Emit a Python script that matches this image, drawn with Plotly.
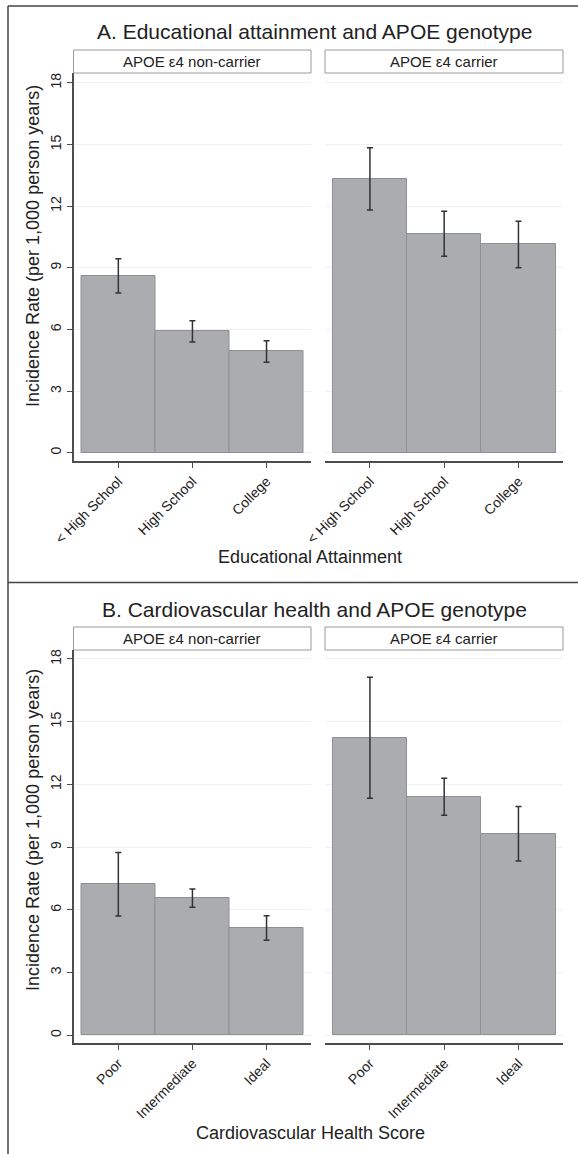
import plotly.graph_objects as go

# ---------------- data ----------------
edu_categories = ["< High School", "High School", "College"]
edu_noncarrier = [8.61, 5.91, 4.93]
edu_noncarrier_hi = [9.44, 6.42, 5.45]
edu_noncarrier_lo = [7.77, 5.39, 4.41]
edu_carrier = [13.32, 10.66, 10.16]
edu_carrier_hi = [14.84, 11.75, 11.27]
edu_carrier_lo = [11.81, 9.56, 9.00]

cvh_categories = ["Poor", "Intermediate", "Ideal"]
cvh_noncarrier = [7.22, 6.57, 5.15]
cvh_noncarrier_hi = [8.74, 7.00, 5.72]
cvh_noncarrier_lo = [5.71, 6.12, 4.54]
cvh_carrier = [14.24, 11.42, 9.65]
cvh_carrier_hi = [17.13, 12.30, 10.94]
cvh_carrier_lo = [11.34, 10.53, 8.34]

strip_labels = ["APOE ε4 non-carrier", "APOE ε4 carrier"]
panel_titles = ["A. Educational attainment and APOE genotype",
                "B. Cardiovascular health and APOE genotype"]
x_titles = ["Educational Attainment", "Cardiovascular Health Score"]
y_title = "Incidence Rate (per 1,000 person years)"
y_ticks = [0, 3, 6, 9, 12, 15, 18]

# ---------------- layout geometry ----------------
W, H = 578, 1154
FONT = "Liberation Sans, Arial, sans-serif"
BAR_FILL = "#abacaf"
BAR_LINE = "#8f9094"
AX_COLOR = "#4d4d4d"
TXT = "#222222"


def px_x(p):
    return p / W


def px_y(p):
    return 1 - p / H


x_domains = [[px_x(73.5), px_x(311)], [px_x(325), px_x(563)]]
# per panel: axis bottom px, plot top px, y range, title y, y-title centre, x-title y
panel_geo = [
    dict(bottom=461, top=73, yr=[-0.40, 18.48], title_y=32, ytitle_y=246, xtitle_y=557),
    dict(bottom=1043, top=650, yr=[-0.37, 18.43], title_y=609, ytitle_y=830, xtitle_y=1133),
]

fig = go.Figure()

panels = [
    (edu_categories, [(edu_noncarrier, edu_noncarrier_hi, edu_noncarrier_lo),
                      (edu_carrier, edu_carrier_hi, edu_carrier_lo)]),
    (cvh_categories, [(cvh_noncarrier, cvh_noncarrier_hi, cvh_noncarrier_lo),
                      (cvh_carrier, cvh_carrier_hi, cvh_carrier_lo)]),
]

idx = 0
for p, (cats, series) in enumerate(panels):
    g = panel_geo[p]
    bottom, top = g["bottom"], g["top"]
    for s, (vals, hi, lo) in enumerate(series):
        idx += 1
        xa = "x" if idx == 1 else f"x{idx}"
        ya = "y" if idx == 1 else f"y{idx}"
        fig.add_trace(go.Bar(
            x=list(range(len(cats))), y=vals,
            width=1.0,
            marker=dict(color=BAR_FILL, line=dict(color=BAR_LINE, width=1)),
            error_y=dict(type="data", symmetric=False,
                         array=[h - v for h, v in zip(hi, vals)],
                         arrayminus=[v - l for v, l in zip(vals, lo)],
                         color="#333333", thickness=1.5, width=3),
            xaxis=xa, yaxis=ya, showlegend=False, hoverinfo="y"))
        xkey = "xaxis" if idx == 1 else f"xaxis{idx}"
        ykey = "yaxis" if idx == 1 else f"yaxis{idx}"
        fig.layout[xkey] = dict(
            domain=x_domains[s], anchor=ya, range=[-0.605, 2.6],
            tickmode="array", tickvals=list(range(len(cats))), ticktext=cats,
            tickangle=-45, ticks="outside", ticklen=5, tickcolor=AX_COLOR,
            showline=True, linecolor=AX_COLOR, linewidth=1.5,
            showgrid=False, zeroline=False, automargin=False,
            tickfont=dict(family=FONT, size=14, color=TXT))
        fig.layout[ykey] = dict(
            domain=[px_y(bottom), px_y(top)], anchor=xa, range=g["yr"],
            tickmode="array", tickvals=y_ticks,
            ticktext=[str(t) for t in y_ticks] if s == 0 else [""] * len(y_ticks),
            tickangle=-90, ticks="outside" if s == 0 else "", ticklen=5,
            tickcolor=AX_COLOR, automargin=False,
            showline=(s == 0), linecolor=AX_COLOR, linewidth=1.5,
            showgrid=True, gridcolor="#f1f1f1", gridwidth=1, zeroline=False,
            tickfont=dict(family=FONT, size=14, color=TXT))

        # strip label box
        fig.add_shape(type="rect", xref="paper", yref="paper",
                      x0=x_domains[s][0], x1=x_domains[s][1],
                      y0=px_y(top), y1=px_y(top - 23),
                      line=dict(color="#9a9a9a", width=1), fillcolor="white")
        fig.add_annotation(xref="paper", yref="paper",
                           x=(x_domains[s][0] + x_domains[s][1]) / 2,
                           y=px_y(top - 11.5), text=strip_labels[s],
                           showarrow=False, xanchor="center", yanchor="middle",
                           font=dict(family=FONT, size=15, color=TXT))

    # panel title
    fig.add_annotation(xref="paper", yref="paper", x=px_x(314),
                       y=px_y(g["title_y"]), text=panel_titles[p], showarrow=False,
                       xanchor="center", yanchor="middle",
                       font=dict(family=FONT, size=21, color=TXT))
    # y title
    fig.add_annotation(xref="paper", yref="paper", x=px_x(33),
                       y=px_y(g["ytitle_y"]), text=y_title,
                       textangle=-90, showarrow=False,
                       xanchor="center", yanchor="middle",
                       font=dict(family=FONT, size=18, color=TXT))
    # x title
    fig.add_annotation(xref="paper", yref="paper", x=px_x(310),
                       y=px_y(g["xtitle_y"]), text=x_titles[p], showarrow=False,
                       xanchor="center", yanchor="middle",
                       font=dict(family=FONT, size=18, color=TXT))

# frame lines
frame = dict(color="#444", width=1.5)
fig.add_shape(type="line", xref="paper", yref="paper",
              x0=px_x(8), x1=1, y0=px_y(6), y1=px_y(6), line=frame)
fig.add_shape(type="line", xref="paper", yref="paper",
              x0=px_x(8), x1=px_x(8), y0=px_y(6), y1=0, line=frame)
fig.add_shape(type="line", xref="paper", yref="paper",
              x0=px_x(8), x1=1, y0=px_y(582.5), y1=px_y(582.5), line=frame)

fig.update_layout(
    width=W, height=H, margin=dict(l=0, r=0, t=0, b=0, autoexpand=False),
    paper_bgcolor="white", plot_bgcolor="white", bargap=0,
    font=dict(family=FONT))

fig.write_html(
    "out.html",
    config={"displayModeBar": False},
    post_script="document.body.style.margin='0px';"
                "document.body.style.overflow='hidden';")
